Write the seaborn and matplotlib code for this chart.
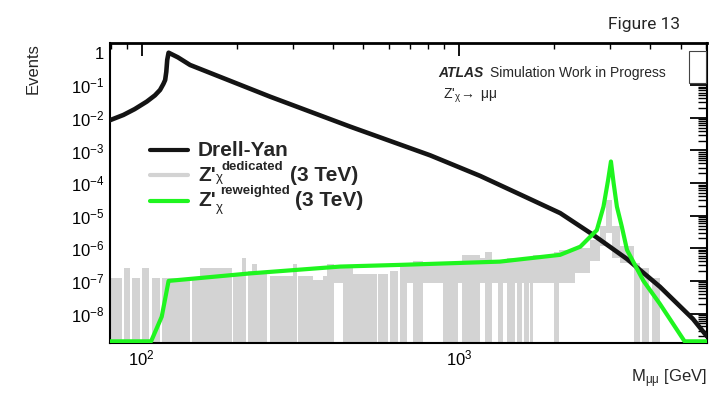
import numpy as np
import pandas as pd
import matplotlib
matplotlib.use("Agg")
import matplotlib.pyplot as plt
import seaborn as sns
from matplotlib.ticker import FixedLocator, FixedFormatter, LogLocator, NullFormatter
from matplotlib.lines import Line2D
from matplotlib.patches import Rectangle

# ---------------- data ----------------
dy_mass = [79.4, 87.5, 95, 103.7, 110, 114.2, 117, 118.5, 119.5, 120.3, 121.5, 130, 142,
           254, 454, 812, 1167, 1600, 2087, 2653, 3390, 4306, 5473, 6057]
dy_events = [8.5e-3, 1.23e-2, 1.86e-2, 3.16e-2, 4.9e-2, 7.2e-2, 0.11, 0.145, 0.26, 0.6,
             1.0, 0.72, 0.42, 4.47e-2, 5.4e-3, 7.1e-4, 1.66e-4, 4.0e-5, 1.2e-5, 2.57e-6,
             4.7e-7, 6.6e-8, 6.8e-9, 2.0e-9]

zp_mass = [79.4, 107, 115.6, 121.5, 220, 422, 653, 1346, 2085, 2415, 2723, 2858, 2956,
           3017, 3076, 3150, 3265, 3390, 3820, 4300, 5150, 6057]
zp_events = [1.4e-9, 1.4e-9, 8e-9, 1.0e-7, 1.7e-7, 2.75e-7, 3.1e-7, 3.9e-7, 6.3e-7,
             1.12e-6, 3.6e-6, 1.9e-5, 1.26e-4, 4.6e-4, 1.0e-4, 1.9e-5, 4.6e-6, 8.9e-7,
             1.0e-7, 2.0e-8, 1.4e-9, 1.4e-9]

# dedicated sample: histogram bin edges, upper level and lower level (0 = down to axis)
grey_edges = [79.4, 86.5, 87.9, 91.8, 93.0, 98.8, 100.4, 105.7, 107.5, 114.2, 115.6, 142.0,
              144.1, 152.7, 192.2, 194.5, 207.3, 213.3, 216.5, 222.8, 231.1, 248.5, 254.0,
              300.1, 308.3, 311.2, 347.0, 373.2, 384.2, 404.3, 431.5, 464.1, 551, 556, 598,
              607, 645, 653, 685.5, 719, 773, 894, 997, 1022, 1167, 1211, 1271, 1333, 1382,
              1417, 1505, 1524, 1580, 1599, 1658, 1679, 1719, 1988, 2062, 2328, 2596, 2791,
              2916, 3045, 3228, 3554, 3733, 3779, 3963, 4063, 4315]
grey_top = [1.2e-7, 0, 2.45e-7, 0, 1.2e-7, 0, 2.45e-7, 0, 1.2e-7, 0, 1.2e-7, 0,
            1.2e-7, 2.45e-7, 0, 1.6e-7, 4.9e-7, 0, 2.0e-7, 3.4e-7, 2.0e-7, 0,
            1.4e-7, 3.4e-7, 0, 1.4e-7, 1.1e-7, 1.4e-7, 3.4e-7, 2.5e-7, 2.5e-7, 1.6e-7, 0, 1.6e-7,
            0, 2.0e-7, 0, 3.2e-7, 3.2e-7, 4.0e-7, 3.5e-7, 3.5e-7, 4.0e-7, 6.3e-7, 5.0e-7, 7.9e-7,
            4.5e-7, 4.5e-7, 4.0e-7, 5.0e-7, 5.0e-7, 5.0e-7, 5.0e-7, 5.6e-7, 5.6e-7, 5.6e-7,
            6.3e-7, 7.9e-7, 9.0e-7, 1.0e-6, 1.8e-6, 5.0e-6, 3.0e-5, 5.0e-6, 1.2e-6,
            3.5e-7, 0, 2.5e-7, 0, 1.2e-7]
grey_base = [0, 0, 0, 0, 0, 0, 0, 0, 0, 0, 0, 0,
             0, 0, 0, 0, 0, 0, 0, 0, 0, 0,
             0, 0, 0, 0, 0, 0, 0, 8.5e-8, 0, 0, 0, 0,
             0, 0, 0, 0, 8.5e-8, 0, 8.5e-8, 0, 8.5e-8, 0, 8.5e-8, 0,
             8.5e-8, 0, 8.5e-8, 0, 8.5e-8, 0, 8.5e-8, 0, 8.5e-8, 0,
             8.5e-8, 0, 8.5e-8, 1.7e-7, 4.0e-7, 1.2e-6, 3.0e-6, 5.0e-7, 3.5e-7,
             0, 0, 0, 0, 0]

y_ticks = [1, 1e-1, 1e-2, 1e-3, 1e-4, 1e-5, 1e-6, 1e-7, 1e-8]
y_tick_labels = ["1", "$10^{-1}$", "$10^{-2}$", "$10^{-3}$", "$10^{-4}$", "$10^{-5}$",
                 "$10^{-6}$", "$10^{-7}$", "$10^{-8}$"]
x_ticks = [100, 1000]
x_tick_labels = ["$10^{2}$", "$10^{3}$"]

# ---------------- style ----------------
sns.set_theme(style="white")
plt.rcParams["font.family"] = ["Liberation Sans", "DejaVu Sans"]
plt.rcParams["mathtext.fontset"] = "custom"
plt.rcParams["mathtext.rm"] = "Liberation Sans"
plt.rcParams["mathtext.it"] = "Liberation Sans:italic"
plt.rcParams["mathtext.bf"] = "Liberation Sans:bold"

BLACK = "#141414"
GREY = "#d3d3d3"
GREEN = "#1ff51f"

W, H = 709, 393
fig = plt.figure(figsize=(W / 100, H / 100), dpi=100)
ax = fig.add_axes([110 / W, 1 - 343 / H, 597 / W, 299.7 / H])

# grey histogram (dedicated)
edges = np.array(grey_edges)
floor = 1e-14
top = np.array(grey_top, dtype=float)
base = np.array(grey_base, dtype=float)
top = np.where(top > 0, top, floor)
base = np.where(base > 0, base, floor)
top = np.append(top, top[-1])
base = np.append(base, base[-1])
ax.fill_between(edges, base, top, step="post", color=GREY, lw=0, zorder=1)

dy = pd.DataFrame({"mass": dy_mass, "events": dy_events})
zp = pd.DataFrame({"mass": zp_mass, "events": zp_events})
sns.lineplot(data=dy, x="mass", y="events", ax=ax, color=BLACK, lw=3.3, zorder=3)
sns.lineplot(data=zp, x="mass", y="events", ax=ax, color=GREEN, lw=3.0, zorder=4)

ax.set_xscale("log")
ax.set_yscale("log")
ax.set_xlim(79.4, 6060)
ax.set_ylim(1.245e-9, 1.94)
ax.set_xlabel("")
ax.set_ylabel("")

ax.yaxis.set_major_locator(FixedLocator(y_ticks))
ax.yaxis.set_major_formatter(FixedFormatter(y_tick_labels))
ax.yaxis.set_minor_locator(LogLocator(base=10, subs=np.arange(2, 10), numticks=30))
ax.yaxis.set_minor_formatter(NullFormatter())
ax.xaxis.set_major_locator(FixedLocator(x_ticks))
ax.xaxis.set_major_formatter(FixedFormatter(x_tick_labels))
ax.xaxis.set_minor_locator(LogLocator(base=10, subs=np.arange(2, 10), numticks=30))
ax.xaxis.set_minor_formatter(NullFormatter())

ax.tick_params(which="both", direction="in", top=True, right=True, color="black",
               labelsize=12, labelcolor="black")
ax.tick_params(axis="y", which="major", length=12, width=1.3, pad=4)
ax.tick_params(axis="y", which="minor", length=6.5, width=1.0)
ax.tick_params(axis="x", which="major", length=9, width=1.3, pad=4)
ax.tick_params(axis="x", which="minor", length=4.5, width=1.0)
for s in ax.spines.values():
    s.set_color("black")
    s.set_linewidth(1.5)
ax.spines["top"].set_linewidth(2.0)
ax.set_facecolor("white")

# small white box at the top right covering the right-axis ticks
fig.add_artist(Rectangle((689 / W, 1 - 83 / H), 17 / W, 32 / H, transform=fig.transFigure,
                         facecolor="white", edgecolor="#444444", lw=0.8, zorder=10))

# ---------------- texts ----------------
def ft(x, y, s, **kw):
    fig.text(x / W, 1 - y / H, s, va="baseline", **kw)

ft(680, 29, "Figure 13", ha="right", fontsize=12.5, family=["Roboto", "DejaVu Sans"])
fig.text(33 / W, 1 - 43 / H, "Events", rotation=90, ha="center", va="top", fontsize=12)
ft(707, 382, r"M$_{\mathrm{\mu\mu}}$ [GeV]", ha="right", fontsize=12)

ft(438, 77, "ATLAS", fontsize=10, fontweight="bold", fontstyle="italic")
ft(490, 77, "Simulation Work in Progress", fontsize=10)
ft(443, 99, r"Z'$_{\mathrm{\chi}}\!\rightarrow$ $\mathrm{\mu\mu}$", fontsize=10)

# legend
for yy, col in [(150, BLACK), (175, GREY), (200.7, GREEN)]:
    fig.add_artist(Line2D([150 / W, 188 / W], [1 - yy / H] * 2, color=col, lw=3.0))
ft(198, 155.5, "Drell-Yan", fontsize=15, fontweight="bold")
ft(198, 180.5, "Z'", fontsize=15, fontweight="bold")
ft(221, 170.5, "dedicated", fontsize=9.5, fontweight="bold")
ft(216, 181, "χ", fontsize=9.5)
ft(290, 180.5, "(3 TeV)", fontsize=15, fontweight="bold")
ft(198, 206, "Z'", fontsize=15, fontweight="bold")
ft(220, 194, "reweighted", fontsize=9.5, fontweight="bold")
ft(216, 210.5, "χ", fontsize=9.5)
ft(295, 206, "(3 TeV)", fontsize=15, fontweight="bold")

fig.savefig("out.png", dpi=100, facecolor="white")
